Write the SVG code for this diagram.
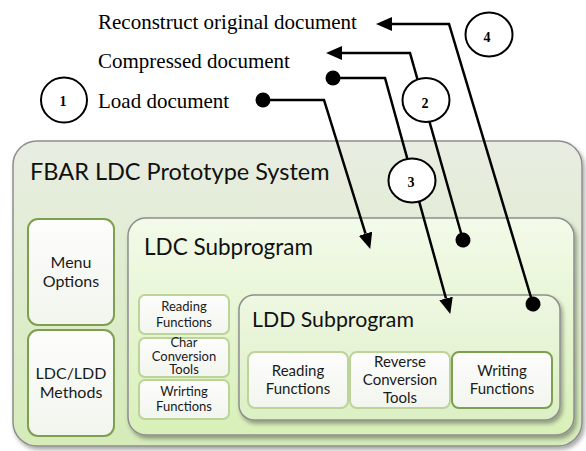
<svg xmlns="http://www.w3.org/2000/svg" width="586" height="451" viewBox="0 0 586 451">
  <defs>
    <linearGradient id="gOuter" x1="0" y1="0" x2="0" y2="1">
      <stop offset="0" stop-color="#e8ede2"/>
      <stop offset="1" stop-color="#d5ebb9"/>
    </linearGradient>
    <linearGradient id="gLdc" x1="0" y1="0" x2="0" y2="1">
      <stop offset="0" stop-color="#f3faea"/>
      <stop offset="1" stop-color="#d8f0b8"/>
    </linearGradient>
    <linearGradient id="gLdd" x1="0" y1="0" x2="0" y2="1">
      <stop offset="0" stop-color="#eef7e2"/>
      <stop offset="1" stop-color="#dcefc4"/>
    </linearGradient>
    <linearGradient id="gItem" x1="0" y1="0" x2="0" y2="1">
      <stop offset="0" stop-color="#fdfdfc"/>
      <stop offset="1" stop-color="#f2f5ee"/>
    </linearGradient>
    <filter id="shadow" x="-10%" y="-10%" width="125%" height="125%">
      <feDropShadow dx="2" dy="3" stdDeviation="2" flood-color="#000" flood-opacity="0.35"/>
    </filter>
    <marker id="arrow" markerUnits="userSpaceOnUse" markerWidth="16" markerHeight="14" refX="0" refY="7" orient="auto">
      <path d="M0,0 L16,7 L0,14 Z" fill="#000"/>
    </marker>
    <marker id="dot" markerUnits="userSpaceOnUse" markerWidth="16" markerHeight="16" refX="8" refY="8" orient="auto">
      <circle cx="8" cy="8" r="7.5" fill="#000"/>
    </marker>
  </defs>
  <style>
    .container { stroke: #8e8e8e; stroke-width: 1.5; filter: url(#shadow); }
    .item { fill: url(#gItem); stroke-width: 2; }
    .dark { stroke: #7f9f50; }
    .light { stroke: #bcd49a; }
    .title { font-family: Lato, "Liberation Sans", sans-serif; fill: #111; }
    .label { font-family: Lato, "Liberation Sans", sans-serif; fill: #1a1a1a; text-anchor: middle; }
    .caption { font-family: "Liberation Serif", "Times New Roman", serif; font-size: 21px; fill: #000; }
    .step ellipse { fill: #fff; stroke: #000; stroke-width: 2; }
    .step text { font-family: "Liberation Serif", "Times New Roman", serif; font-size: 14px; font-weight: bold; text-anchor: middle; fill: #000; }
    .wire { fill: none; stroke: #000; stroke-width: 2.5; stroke-linejoin: miter; }
  </style>

  <!-- outer system frame -->
  <g id="fbar-system">
    <rect class="container" x="13" y="141" width="569" height="305" rx="24" fill="url(#gOuter)"/>
    <text class="title" x="30" y="180" font-size="23.5">FBAR LDC Prototype System</text>
  </g>

  <g id="menu-options">
    <rect class="item dark" x="28" y="219" width="86" height="106" rx="10"/>
    <text class="label" x="71" y="268" font-size="16">Menu</text>
    <text class="label" x="71" y="287" font-size="16">Options</text>
  </g>

  <g id="ldc-ldd-methods">
    <rect class="item dark" x="28" y="330" width="86" height="106" rx="10"/>
    <text class="label" x="71" y="379" font-size="16">LDC/LDD</text>
    <text class="label" x="71" y="398" font-size="16">Methods</text>
  </g>

  <!-- LDC subprogram -->
  <g id="ldc-subprogram">
    <rect class="container" x="128" y="218" width="446" height="217" rx="18" fill="url(#gLdc)"/>
    <text class="title" x="144" y="255" font-size="22.5">LDC Subprogram</text>
  </g>

  <g id="ldc-reading">
    <rect class="item light" x="139" y="295" width="90" height="39" rx="6"/>
    <text class="label" x="184" y="311" font-size="13">Reading</text>
    <text class="label" x="184" y="327" font-size="13">Functions</text>
  </g>

  <g id="ldc-char-conversion">
    <rect class="item light" x="139" y="338" width="90" height="39" rx="6"/>
    <text class="label" x="184" y="347" font-size="13">Char</text>
    <text class="label" x="184" y="361" font-size="13">Conversion</text>
    <text class="label" x="184" y="373.5" font-size="13">Tools</text>
  </g>

  <g id="ldc-writing">
    <rect class="item light" x="139" y="380" width="90" height="39" rx="6"/>
    <text class="label" x="184" y="396" font-size="13">Wrirting</text>
    <text class="label" x="184" y="411" font-size="13">Functions</text>
  </g>

  <!-- LDD subprogram -->
  <g id="ldd-subprogram">
    <rect class="container" x="239" y="295" width="321" height="125" rx="15" fill="url(#gLdd)"/>
    <text class="title" x="252" y="327" font-size="21.3">LDD Subprogram</text>
  </g>

  <g id="ldd-reading">
    <rect class="item light" x="248" y="352" width="100" height="56" rx="7"/>
    <text class="label" x="298" y="376" font-size="15">Reading</text>
    <text class="label" x="298" y="394" font-size="15">Functions</text>
  </g>

  <g id="ldd-reverse-conversion">
    <rect class="item light" x="350" y="352" width="100" height="56" rx="7"/>
    <text class="label" x="400" y="367" font-size="15">Reverse</text>
    <text class="label" x="400" y="385" font-size="15">Conversion</text>
    <text class="label" x="400" y="403" font-size="15">Tools</text>
  </g>

  <g id="ldd-writing">
    <rect class="item dark" x="452" y="352" width="100" height="56" rx="7"/>
    <text class="label" x="502" y="376" font-size="15">Writing</text>
    <text class="label" x="502" y="394" font-size="15">Functions</text>
  </g>

  <!-- document captions -->
  <g id="reconstruct-doc">
    <text class="caption" x="98" y="29">Reconstruct original document</text>
  </g>
  <g id="compressed-doc">
    <text class="caption" x="98" y="68">Compressed document</text>
  </g>
  <g id="load-doc">
    <text class="caption" x="98" y="108">Load document</text>
  </g>

  <!-- data-flow connectors -->
  <g id="connectors">
    <path class="wire" d="M263,100 H324 L365.5,233.7" marker-start="url(#dot)" marker-end="url(#arrow)"/>
    <path class="wire" d="M463,240 L410,53 H342" marker-start="url(#dot)" marker-end="url(#arrow)"/>
    <path class="wire" d="M333,78 H385 L446,298.5" marker-start="url(#dot)" marker-end="url(#arrow)"/>
    <path class="wire" d="M533,304 L449,24 H392" marker-start="url(#dot)" marker-end="url(#arrow)"/>
  </g>

  <!-- step numbers -->
  <g id="step-1" class="step">
    <ellipse cx="64" cy="100" rx="23" ry="22.5"/>
    <text x="63" y="106">1</text>
  </g>
  <g id="step-2" class="step">
    <ellipse cx="426" cy="100" rx="23.5" ry="22"/>
    <text x="425" y="108">2</text>
  </g>
  <g id="step-3" class="step">
    <ellipse cx="412" cy="180.5" rx="23.5" ry="22"/>
    <text x="411" y="187">3</text>
  </g>
  <g id="step-4" class="step">
    <ellipse cx="489" cy="34.5" rx="23.5" ry="22"/>
    <text x="487" y="41.5">4</text>
  </g>
</svg>
